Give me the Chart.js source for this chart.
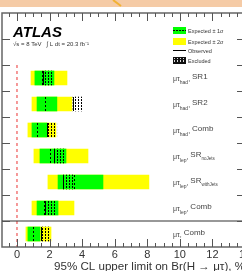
<!DOCTYPE html>
<html><head><meta charset="utf-8">
<script src="https://cdn.jsdelivr.net/npm/chart.js@4.4.0/dist/chart.umd.min.js"></script>
<style>html,body{margin:0;padding:0;overflow:hidden;background:#fff;width:242px;height:271px}
#wrap{position:relative;width:262px;height:274px}</style></head>
<body><div id="wrap"><canvas id="c" width="262" height="274"></canvas></div>
<script>
// ---- data ----
const categories = ['', '', 'SR1', 'SR2', 'hadComb', 'noJets', 'withJets', 'lepComb', 'mutauComb'];
const channelSub = [null, null, 'had', 'had', 'had', 'lep', 'lep', 'lep', ''];
const regionText = [null, null, 'SR1', 'SR2', 'Comb', 'SR', 'SR', 'Comb', 'Comb'];
const regionSub  = [null, null, '', '', '', 'noJets', 'withJets', '', ''];
const band2Lo  = [null, null, 0.86, 0.92, 0.67, 1.04, 1.90, 0.92, 0.55];
const band2Hi  = [null, null, 3.07, 3.37, 2.39, 4.36, 8.10, 3.50, 2.09];
const band1Lo  = [null, null, 1.10, 1.23, 0.92, 1.41, 2.52, 1.23, 0.67];
const band1Hi  = [null, null, 2.27, 2.45, 1.84, 3.01, 5.28, 2.52, 1.41];
const expected = [null, null, 1.53, 1.72, 1.23, 2.02, 3.50, 1.66, 0.98];
const observed = [null, null, 1.60, 3.44, 1.84, 2.27, 2.82, 1.72, 1.47];
const xTicks = [0, 2, 4, 6, 8, 10, 12, 14];
const legendLabels = ['Expected \u00b1 1\u03c3', 'Expected \u00b1 2\u03c3', 'Observed', 'Excluded'];

const HATCH_W = 0.6;
const FONT = 'Liberation Sans';
const canvas = document.getElementById('c');
const ctx = canvas.getContext('2d');

function makePattern(fg) {
  const p = document.createElement('canvas'); p.width = 3; p.height = 3;
  const g = p.getContext('2d');
  g.fillStyle = fg; g.fillRect(0, 0, 1, 2);
  return ctx.createPattern(p, 'repeat');
}
const hatch = makePattern('#000');

const deco = {
  id: 'deco',
  beforeDraw(chart) {
    const c = chart.ctx;
    c.save();
    c.fillStyle = '#fff'; c.fillRect(0, 0, chart.width, chart.height);
    c.fillStyle = '#f5cba6'; c.fillRect(0, 0, chart.width, 7);
    c.strokeStyle = '#f2b233'; c.lineWidth = 2;
    c.beginPath(); c.moveTo(113, 0); c.lineTo(121, 6); c.stroke();
    c.restore();
  },
  afterDatasetsDraw(chart) {
    const c = chart.ctx, xs = chart.scales.x, ys = chart.scales.y, a = chart.chartArea;
    c.save();
    // red dashed line at 0
    const x0 = xs.getPixelForValue(0);
    c.strokeStyle = '#f27878'; c.lineWidth = 1.5; c.setLineDash([3, 3]);
    c.beginPath(); c.moveTo(x0, (ys.getPixelForValue(1) + ys.getPixelForValue(2)) / 2); c.lineTo(x0, a.bottom); c.stroke();
    // expected / observed lines
    for (let i = 0; i < categories.length; i++) {
      if (expected[i] == null) continue;
      const yc = ys.getPixelForValue(i);
      c.strokeStyle = '#000'; c.lineWidth = 1; c.setLineDash([2, 2]);
      let xe = Math.round(xs.getPixelForValue(expected[i])) + 0.5;
      c.beginPath(); c.moveTo(xe, yc - 7); c.lineTo(xe, yc + 7); c.stroke();
      c.setLineDash([]);
      let xo = Math.round(xs.getPixelForValue(observed[i])) + 0.5;
      c.beginPath(); c.moveTo(xo, yc - 7); c.lineTo(xo, yc + 7); c.stroke();
    }
    c.setLineDash([]);
    // frame
    c.strokeStyle = '#666'; c.lineWidth = 1.5;
    c.strokeRect(a.left, a.top, a.right - a.left, a.bottom - a.top);
    // separator
    const sep = (ys.getPixelForValue(7) + ys.getPixelForValue(8)) / 2;
    c.strokeStyle = '#333'; c.lineWidth = 1.2;
    c.beginPath(); c.moveTo(a.left, sep); c.lineTo(a.right, sep); c.stroke();
    // y ticks at boundaries
    c.strokeStyle = '#555'; c.lineWidth = 1.2;
    for (let i = 0; i < categories.length - 1; i++) {
      const yb = Math.round((ys.getPixelForValue(i) + ys.getPixelForValue(i + 1)) / 2) + 0.5;
      c.beginPath(); c.moveTo(a.left, yb); c.lineTo(a.left + 8, yb); c.moveTo(a.right, yb); c.lineTo(a.right - 8, yb); c.stroke();
    }
    // x ticks (top and bottom)
    c.lineWidth = 1;
    for (let v = -0.5; v <= 14.001; v += 0.5) {
      const xp = Math.round(xs.getPixelForValue(v)) + 0.5;
      const major = Math.abs(v / 2 - Math.round(v / 2)) < 1e-6;
      const len = major ? 8 : 4;
      c.beginPath(); c.moveTo(xp, a.bottom); c.lineTo(xp, a.bottom - len);
      c.moveTo(xp, a.top); c.lineTo(xp, a.top + len); c.stroke();
    }
    // channel labels
    c.fillStyle = '#444'; c.textBaseline = 'alphabetic';
    for (let i = 0; i < categories.length; i++) {
      if (regionText[i] == null) continue;
      const yc = ys.getPixelForValue(i);
      let x = 173;
      c.font = '7px ' + FONT;
      c.fillText('\u03bc\u03c4', x, yc + 3); x += c.measureText('\u03bc\u03c4').width;
      if (channelSub[i]) { c.font = '5px ' + FONT; c.fillText(channelSub[i], x, yc + 6); x += c.measureText(channelSub[i]).width; }
      c.font = '7px ' + FONT;
      c.fillText(', ', x, yc + 3); x += c.measureText(', ').width;
      c.font = '8px ' + FONT;
      c.fillText(regionText[i], x, yc + 1); x += c.measureText(regionText[i]).width;
      if (regionSub[i]) { c.font = '4.5px ' + FONT; c.fillText(regionSub[i], x, yc + 4); }
    }
    // ATLAS
    c.fillStyle = '#000';
    c.font = 'italic bold 15px ' + FONT;
    c.fillText('ATLAS', 13, 37);
    c.fillStyle = '#333';
    c.font = '6px ' + FONT;
    c.fillText('\u221as = 8 TeV   \u222b L dt = 20.3 fb\u207b\u00b9', 13, 46);
    // legend
    const lx = 173, lw = 13;
    c.fillStyle = '#00ff00'; c.fillRect(lx, 27, lw, 7);
    c.strokeStyle = '#000'; c.lineWidth = 1; c.setLineDash([2, 1]);
    c.beginPath(); c.moveTo(lx, 30.5); c.lineTo(lx + lw, 30.5); c.stroke(); c.setLineDash([]);
    c.fillStyle = '#ffff00'; c.fillRect(lx, 38, lw, 7);
    c.beginPath(); c.moveTo(lx, 50.5); c.lineTo(lx + lw, 50.5); c.stroke();
    c.fillStyle = '#111'; c.fillRect(lx, 57, lw, 7);
    c.fillStyle = makePattern('#ddd'); c.fillRect(lx + 1, 58, lw - 2, 5);
    c.fillStyle = '#333'; c.font = '5.5px ' + FONT;
    const ly = [33, 44, 52.5, 63];
    legendLabels.forEach((t, k) => c.fillText(t, lx + 15, ly[k]));
    c.restore();
  }
};

const rangeData = (lo, hi) => lo.map((v, i) => v == null ? null : [v, hi[i]]);

new Chart(ctx, {
  type: 'bar',
  data: {
    labels: categories,
    datasets: [
      { label: 'Excluded', data: observed.map(v => v == null ? null : [v, v + HATCH_W]), backgroundColor: hatch, grouped: false, barThickness: 14, order: 1 },
      { label: 'Expected \u00b1 1\u03c3', data: rangeData(band1Lo, band1Hi), backgroundColor: '#00ff00', grouped: false, barThickness: 14, order: 2 },
      { label: 'Expected \u00b1 2\u03c3', data: rangeData(band2Lo, band2Hi), backgroundColor: '#ffff00', grouped: false, barThickness: 14, order: 3 }
    ]
  },
  options: {
    indexAxis: 'y', responsive: false, animation: false, devicePixelRatio: 1,
    layout: { padding: { left: 2, top: 13, right: 17, bottom: 0 } },
    plugins: { legend: { display: false }, tooltip: { enabled: false } },
    scales: {
      x: {
        type: 'linear', min: -0.92, max: 14, position: 'bottom',
        grid: { display: false, drawTicks: false, tickLength: 0 }, border: { display: false },
        afterBuildTicks: s => { s.ticks = xTicks.map(v => ({ value: v })); },
        ticks: { font: { family: FONT, size: 11 }, color: '#333', padding: 1, maxRotation: 0, autoSkip: false },
        title: { display: true, text: '95% CL upper limit on Br(H \u2192 \u03bc\u03c4), %', align: 'end', font: { family: FONT, size: 11.6 }, color: '#333', padding: { top: 0, bottom: 0 } },
        afterFit: s => { s.height = 27; }
      },
      y: { display: false }
    }
  },
  plugins: [deco]
});
</script></body></html>
